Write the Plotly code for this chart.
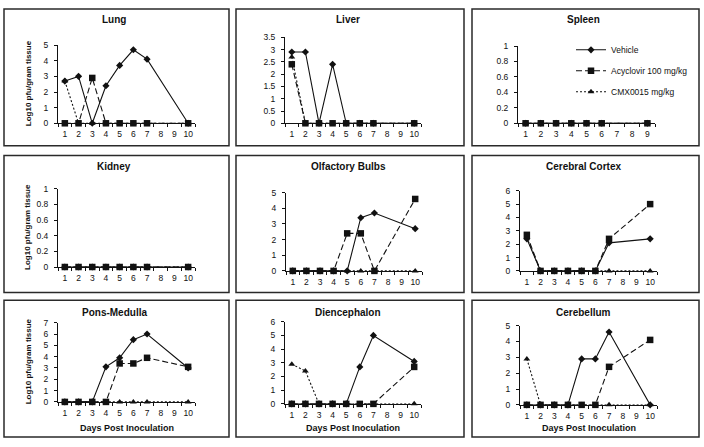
import plotly.graph_objects as go

W, H = 704, 447

# ---------------- data ----------------
days_std = [1, 2, 3, 4, 5, 6, 7, 10]
days_spleen = [1, 2, 3, 4, 5, 6, 9]
tick_pos_std = [1, 2, 3, 4, 5, 6, 7, 8, 9, 10]
tick_labels_std = ["1", "2", "3", "4", "5", "6", "7", "8", "9", "10"]
tick_pos_spleen = [1, 2, 3, 4, 5, 6, 7, 8, 9]
tick_labels_spleen = ["1", "2", "3", "4", "5", "6", "7", "8", "9"]

series_names = ["Vehicle", "Acyclovir 100 mg/kg", "CMX0015 mg/kg"]
panel_titles = ["Lung", "Liver", "Spleen", "Kidney", "Olfactory Bulbs",
                "Cerebral Cortex", "Pons-Medulla", "Diencephalon", "Cerebellum"]

lung_vehicle = [2.7, 3.0, 0, 2.4, 3.7, 4.7, 4.1, 0]
lung_acyclovir = [0, 0, 2.9, 0, 0, 0, 0, 0]
lung_cmx = [2.7, 0, 0, 0, 0, 0, 0, 0]

liver_vehicle = [2.9, 2.9, 0, 2.4, 0, 0, 0, 0]
liver_acyclovir = [2.4, 0, 0, 0, 0, 0, 0, 0]
liver_cmx = [2.7, 0, 0, 0, 0, 0, 0, 0]

spleen_vehicle = [0, 0, 0, 0, 0, 0, 0]
spleen_acyclovir = [0, 0, 0, 0, 0, 0, 0]
spleen_cmx = [0, 0, 0, 0, 0, 0, 0]

kidney_vehicle = [0, 0, 0, 0, 0, 0, 0, 0]
kidney_acyclovir = [0, 0, 0, 0, 0, 0, 0, 0]
kidney_cmx = [0, 0, 0, 0, 0, 0, 0, 0]

olfactory_vehicle = [0, 0, 0, 0, 0, 3.4, 3.7, 2.7]
olfactory_acyclovir = [0, 0, 0, 0, 2.4, 2.4, 0, 4.6]
olfactory_cmx = [0, 0, 0, 0, 0, 0, 0, 0]

cortex_vehicle = [2.4, 0, 0, 0, 0, 0, 2.1, 2.4]
cortex_acyclovir = [2.7, 0, 0, 0, 0, 0, 2.4, 5.0]
cortex_cmx = [2.5, 0, 0, 0, 0, 0, 0, 0]

pons_vehicle = [0, 0, 0, 3.1, 3.9, 5.5, 6.0, 3.0]
pons_acyclovir = [0, 0, 0, 0, 3.4, 3.4, 3.9, 3.1]
pons_cmx = [0, 0, 0, 0, 0, 0, 0, 0]

dien_vehicle = [0, 0, 0, 0, 0, 2.7, 5.0, 3.1]
dien_acyclovir = [0, 0, 0, 0, 0, 0, 0, 2.7]
dien_cmx = [2.9, 2.4, 0, 0, 0, 0, 0, 0]

cereb_vehicle = [0, 0, 0, 0, 2.9, 2.9, 4.6, 0]
cereb_acyclovir = [0, 0, 0, 0, 0, 0, 2.4, 4.1]
cereb_cmx = [2.9, 0, 0, 0, 0, 0, 0, 0]

y_max = [5, 3.5, 1, 1, 5, 6, 7, 6, 5]
y_dtick = [1, 0.5, 0.2, 0.2, 1, 1, 1, 1, 1]

panels = [
    (days_std, lung_vehicle, lung_acyclovir, lung_cmx),
    (days_std, liver_vehicle, liver_acyclovir, liver_cmx),
    (days_spleen, spleen_vehicle, spleen_acyclovir, spleen_cmx),
    (days_std, kidney_vehicle, kidney_acyclovir, kidney_cmx),
    (days_std, olfactory_vehicle, olfactory_acyclovir, olfactory_cmx),
    (days_std, cortex_vehicle, cortex_acyclovir, cortex_cmx),
    (days_std, pons_vehicle, pons_acyclovir, pons_cmx),
    (days_std, dien_vehicle, dien_acyclovir, dien_cmx),
    (days_std, cereb_vehicle, cereb_acyclovir, cereb_cmx),
]

# ---------------- layout geometry (pixels) ----------------
box_cols = [(4, 229), (236, 464), (472, 699)]
box_rows = [(4, 144), (154, 294), (302, 442)]
# plot areas: (x0, x1, ytop, ybottom)
plot_areas = [
    (58, 195, 41, 121), (285, 421, 33, 121), (518, 655, 42, 121),
    (58, 195, 188, 268), (286, 422, 192, 272), (520, 657, 190, 272),
    (58, 195, 325, 406), (285, 421, 324, 408), (520, 657, 328, 409),
]
title_offsets = [11, 11, 13]

FONT = "Arial, 'Liberation Sans', sans-serif"
INK = "#111"

def px(x):
    return x / W

def py(y):
    return 1 - y / H

fig = go.Figure()

styles = [
    dict(dash="solid", symbol="diamond", size=5.5),
    dict(dash="6px,3px", symbol="square", size=6.5),
    dict(dash="2px,2px", symbol="triangle-up", size=6),
]
draw_order = [0, 2, 1]  # vehicle, CMX, acyclovir (squares on top)

for i, (days, veh, acy, cmx) in enumerate(panels):
    vals = [veh, acy, cmx]
    ax = "" if i == 0 else str(i + 1)
    for s in draw_order:
        st = styles[s]
        fig.add_trace(go.Scatter(
            x=days, y=vals[s], mode="lines+markers", name=series_names[s],
            xaxis="x" + ax, yaxis="y" + ax,
            line=dict(color=INK, width=1.1, dash=st["dash"]),
            marker=dict(symbol=st["symbol"], size=st["size"], color=INK),
            showlegend=(i == 2), legendrank=s + 1, legendgroup=str(s),
            cliponaxis=False, hoverinfo="skip",
        ))

layout = dict(
    width=W, height=H, margin=dict(l=0, r=0, t=0, b=0),
    paper_bgcolor="white", plot_bgcolor="white",
    font=dict(family=FONT, size=8.5, color=INK),
    showlegend=True,
    legend=dict(x=px(571), y=py(31), xanchor="left", yanchor="top",
                bgcolor="rgba(0,0,0,0)", font=dict(size=8.5, family=FONT),
                tracegroupgap=2, itemwidth=30),
)

shapes = []
annotations = []
for i in range(9):
    r, c = divmod(i, 3)
    x0, x1, yt, yb = plot_areas[i]
    ax = "" if i == 0 else str(i + 1)
    spleen = (i == 2)
    tpos = tick_pos_spleen if spleen else tick_pos_std
    tlab = tick_labels_spleen if spleen else tick_labels_std
    layout["xaxis" + ax] = dict(
        domain=[px(x0), px(x1)], anchor="y" + ax,
        range=[0.5, len(tpos) + 0.5], tickmode="array", tickvals=tpos, ticktext=tlab,
        ticks="", showline=True, linecolor=INK, linewidth=1, showgrid=False, zeroline=False,
        tickfont=dict(size=8.5, family=FONT, color=INK), fixedrange=True,
        ticklabelstandoff=3,
        minor=dict(ticks="outside", tickmode="linear", tick0=0.5, dtick=1,
                   ticklen=3, tickcolor=INK, tickwidth=1, showgrid=False),
    )
    layout["yaxis" + ax] = dict(
        domain=[py(yb), py(yt)], anchor="x" + ax,
        range=[0, y_max[i]], dtick=y_dtick[i], tick0=0,
        ticks="outside", ticklen=3, tickcolor=INK, showline=True, linecolor=INK, linewidth=1,
        showgrid=False, zeroline=False, tickfont=dict(size=8.5, family=FONT, color=INK),
        ticklabelstandoff=4, fixedrange=True,
    )
    bx0, bx1 = box_cols[c]
    by0, by1 = box_rows[r]
    shapes.append(dict(type="rect", xref="paper", yref="paper",
                       x0=px(bx0), x1=px(bx1), y0=py(by1), y1=py(by0),
                       line=dict(color="#2a2a2a", width=1.5), layer="below"))
    annotations.append(dict(text="<b>" + panel_titles[i] + "</b>", xref="paper", yref="paper",
                            x=px((bx0 + bx1) / 2 - 2), y=py(by0 + title_offsets[r]),
                            xanchor="center", yanchor="middle", showarrow=False,
                            font=dict(size=10, family=FONT, color=INK)))
    if c == 0:
        annotations.append(dict(text="<b>Log10 pfu/gram tissue</b>", xref="paper", yref="paper",
                                x=px(28), y=py((yt + yb) / 2 - 1), textangle=-90,
                                xanchor="center", yanchor="middle", showarrow=False,
                                font=dict(size=8, family=FONT, color=INK)))
    if r == 2:
        annotations.append(dict(text="<b>Days Post Inoculation</b>", xref="paper", yref="paper",
                                x=px((x0 + x1) / 2), y=py(433),
                                xanchor="center", yanchor="middle", showarrow=False,
                                font=dict(size=9, family=FONT, color=INK)))

layout["shapes"] = shapes
layout["annotations"] = annotations
fig.update_layout(**layout)
fig.write_html("out.html", config={"displayModeBar": False},
               post_script="document.body.style.margin='0';")
